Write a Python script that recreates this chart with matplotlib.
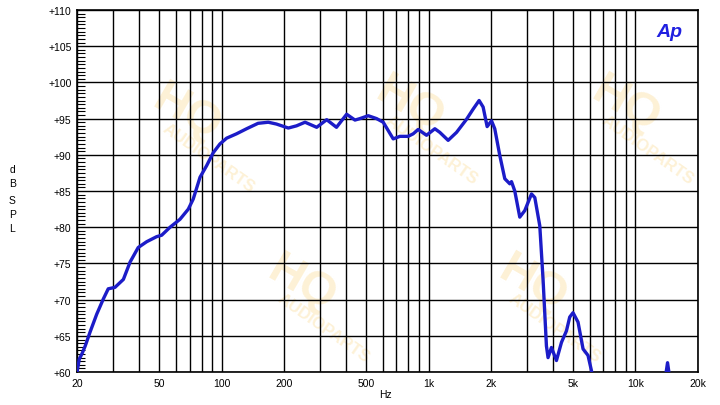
# Frequency response (dB SPL vs Hz), Audio Precision style chart
import numpy as np
import matplotlib.pyplot as plt
from matplotlib.ticker import FixedLocator, MultipleLocator, NullLocator

plt.rcParams['font.family'] = ['Liberation Sans', 'DejaVu Sans']

freq = [20, 20.5, 21.1, 21.9, 23.1, 24.9, 26.8, 28.3, 30.5, 33.5, 36.1, 39.5,
        43.4, 48.5, 51.3, 56.3, 62.9, 69, 72.9, 78.6, 84.6, 91.1, 98.1, 105.7,
        118, 132, 150, 168, 184, 210, 230, 253, 288, 322, 359, 402, 441, 466,
        511, 561, 604, 675, 727, 797, 843, 891, 978, 1073, 1134, 1244, 1366,
        1526, 1642, 1756, 1836, 1920, 2016, 2090, 2211, 2337, 2471, 2518, 2612,
        2761, 2919, 3146, 3264, 3450, 3578, 3715, 3782, 3928, 4153, 4391, 4642,
        4814, 4994, 5281, 5584, 5902, 6131, 6600, 8000, 10000, 12000, 13500,
        14000, 14300, 14600, 15200, 17000, 20000]
spl = [60.0, 61.8, 62.5, 63.6, 65.5, 68.0, 70.1, 71.5, 71.7, 72.8, 75.2, 77.2,
       78.0, 78.7, 78.9, 80.0, 81.1, 82.5, 83.9, 86.9, 88.5, 90.3, 91.5, 92.3,
       92.9, 93.6, 94.35, 94.5, 94.25, 93.7, 94.0, 94.5, 93.8, 94.85, 93.8,
       95.6, 94.8, 95.0, 95.4, 95.0, 94.5, 92.2, 92.55, 92.55, 92.9, 93.5,
       92.7, 93.6, 93.1, 92.0, 93.1, 94.9, 96.3, 97.5, 96.6, 93.9, 94.7, 93.6,
       89.9, 86.7, 86.0, 86.3, 85.0, 81.4, 82.3, 84.6, 84.1, 80.2, 72.8, 63.6,
       62.0, 63.4, 61.6, 64.1, 65.7, 67.6, 68.2, 66.9, 63.2, 62.3, 60.2, 56.0,
       52.0, 52.0, 54.0, 57.0, 59.5, 61.3, 59.5, 56.0, 52.0, 50.0]

grid_freqs = [20, 30, 40, 50, 60, 70, 80, 90, 100, 200, 300, 400, 500, 600,
              700, 800, 900, 1000, 2000, 3000, 4000, 5000, 6000, 7000, 8000,
              9000, 10000, 20000]
xtick_vals = [20, 50, 100, 200, 500, 1000, 2000, 5000, 10000, 20000]
xtick_labels = ['20', '50', '100', '200', '500', '1k', '2k', '5k', '10k', '20k']
ytick_vals = list(range(60, 111, 5))
ytick_labels = ['+%d' % v for v in ytick_vals]

fig = plt.figure(figsize=(7.2, 4.06), dpi=100)
ax = fig.add_axes([0.107, 0.081, 0.862, 0.892])
ax.patch.set_alpha(0)

# faint watermark, kept behind everything
wm = '#fdf1d6'
for (x, y) in [(0.26, 0.72), (0.57, 0.74), (0.87, 0.74), (0.42, 0.30),
               (0.74, 0.30)]:
    fig.text(x, y, 'HQ', color=wm, fontsize=34, fontweight='bold',
             rotation=-30, ha='center', va='center', zorder=-5)
    fig.text(x + 0.03, y - 0.11, 'AUDIOPARTS', color=wm, fontsize=12,
             fontweight='bold', rotation=-35, ha='center', va='center',
             zorder=-5)

ax.plot(freq, spl, color='#1c1cc8', linewidth=2.4, solid_joinstyle='round',
        zorder=3)

ax.set_xscale('log')
ax.set_xlim(20, 20000)
ax.set_ylim(60, 110)

for f in grid_freqs:
    ax.axvline(f, color='black', linewidth=1.0, zorder=2)
for v in ytick_vals:
    ax.axhline(v, color='black', linewidth=1.0, zorder=2)

ax.xaxis.set_major_locator(FixedLocator(xtick_vals))
ax.xaxis.set_minor_locator(NullLocator())
ax.set_xticklabels(xtick_labels)
ax.set_yticks(ytick_vals)
ax.set_yticklabels(ytick_labels)
ax.yaxis.set_minor_locator(MultipleLocator(0.5))
ax.tick_params(axis='both', which='major', length=0, labelsize=7.5,
               colors='black', pad=4)
ax.tick_params(axis='y', which='minor', direction='in', length=6, width=0.8)
for s in ax.spines.values():
    s.set_linewidth(1.2)

fig.text(0.017, 0.565, 'd\nB', fontsize=7.5, ha='center', va='center',
         linespacing=1.5)
fig.text(0.017, 0.47, 'S\nP\nL', fontsize=7.5, ha='center', va='center',
         linespacing=1.5)
fig.text(0.536, 0.027, 'Hz', fontsize=7.5, ha='center', va='center')

ax.text(0.975, 0.965, 'Ap', transform=ax.transAxes, fontsize=14,
        fontweight='bold', style='italic', color='#2020e0',
        ha='right', va='top', zorder=4)

fig.savefig('out.png', dpi=100)
